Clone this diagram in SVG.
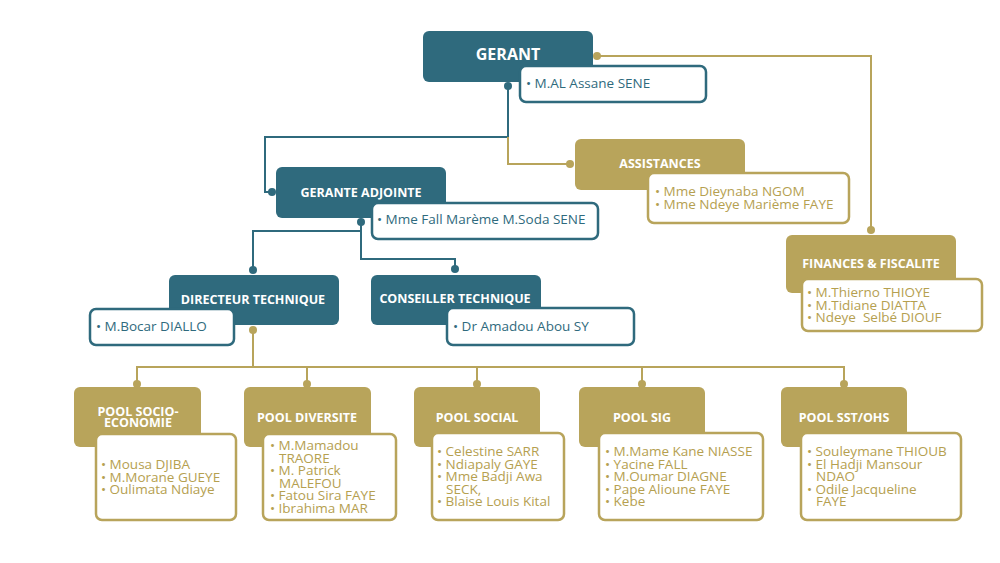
<svg xmlns="http://www.w3.org/2000/svg" width="1000" height="563" viewBox="0 0 1000 563">
<style>
.tb{fill:#2f6a7d}
.gb{fill:#b8a45b}
.tn{fill:#fff;stroke:#2f6a7d;stroke-width:2.5}
.gn{fill:#fff;stroke:#b8a45b;stroke-width:2.5}
.tt{font-family:"Open Sans","Liberation Sans",sans-serif;font-weight:bold;font-size:12.5px;fill:#fff;text-anchor:middle}
.nt{font-family:"Open Sans","Liberation Sans",sans-serif;font-size:13.5px;fill:#2f6a7d}
.ng{font-family:"Open Sans","Liberation Sans",sans-serif;font-size:13.5px;fill:#b5a050}
.ct{fill:none;stroke:#2f6a7d;stroke-width:2}
.cg{fill:none;stroke:#b8a45b;stroke-width:2}
.dt{fill:#2f6a7d}
.dg{fill:#b8a45b}
</style>
<rect width="1000" height="563" fill="#fff"/>
<g id="connectors">
<path class="ct" d="M508,85 V137 H265 V192 H272"/>
<path class="cg" d="M508,137 V164 H570"/>
<path class="cg" d="M597,56 H871 V230"/>
<path class="ct" d="M361,222 V231 H253 V270"/>
<path class="ct" d="M361,231 V259 H455 V269"/>
<path class="cg" d="M253,330 V367"/>
<path class="cg" d="M137,384 V367 H844 V384"/>
<path class="cg" d="M307,367 V384 M477,367 V384 M642,367 V384"/>
<circle class="dt" cx="508" cy="86" r="4"/>
<circle class="dt" cx="272" cy="192" r="4"/>
<circle class="dg" cx="570" cy="164" r="4"/>
<circle class="dg" cx="597" cy="56" r="4"/>
<circle class="dg" cx="871" cy="230" r="4"/>
<circle class="dt" cx="361" cy="222" r="4"/>
<circle class="dt" cx="253" cy="270" r="4"/>
<circle class="dt" cx="455" cy="269" r="4"/>
<circle class="dg" cx="253" cy="330" r="4"/>
<circle class="dg" cx="137" cy="384" r="4"/>
<circle class="dg" cx="307" cy="384" r="4"/>
<circle class="dg" cx="477" cy="384" r="4"/>
<circle class="dg" cx="642" cy="384" r="4"/>
<circle class="dg" cx="844" cy="384" r="4"/>
</g>
<g id="gerant">
<rect class="tb" x="423" y="31" width="170" height="51" rx="6"/>
<text class="tt" x="508" y="60" style="font-size:16px">GERANT</text>
<rect class="tn" x="520" y="66" width="186" height="36" rx="6"/>
<text class="nt" x="526" y="88">• M.AL Assane SENE</text>
</g>
<g id="assistances">
<rect class="gb" x="575" y="139" width="170" height="51" rx="6"/>
<text class="tt" x="660" y="168">ASSISTANCES</text>
<rect class="gn" x="648" y="173" width="201" height="50" rx="6"/>
<text class="ng" x="655" y="196">• Mme Dieynaba NGOM</text>
<text class="ng" x="655" y="208.5">• Mme Ndeye Marième FAYE</text>
</g>
<g id="finances">
<rect class="gb" x="786" y="235" width="170" height="58" rx="6"/>
<text class="tt" x="871" y="268">FINANCES &amp; FISCALITE</text>
<rect class="gn" x="802" y="279" width="180" height="52" rx="6"/>
<text class="ng" x="807" y="297">• M.Thierno THIOYE</text>
<text class="ng" x="807" y="309.5">• M.Tidiane DIATTA</text>
<text class="ng" x="807" y="322" xml:space="preserve">• Ndeye  Selbé DIOUF</text>
</g>
<g id="gerante-adjointe">
<rect class="tb" x="276" y="167" width="170" height="51" rx="6"/>
<text class="tt" x="361" y="196.5">GERANTE ADJOINTE</text>
<rect class="tn" x="372" y="203" width="226" height="36" rx="6"/>
<text class="nt" x="377" y="224">• Mme Fall Marème M.Soda SENE</text>
</g>
<g id="directeur-technique">
<rect class="tb" x="169" y="275" width="170" height="50" rx="6"/>
<text class="tt" x="253" y="303.5">DIRECTEUR TECHNIQUE</text>
<rect class="tn" x="90" y="309" width="144" height="36" rx="6"/>
<text class="nt" x="96" y="331">• M.Bocar DIALLO</text>
</g>
<g id="conseiller-technique">
<rect class="tb" x="371" y="275" width="170" height="50" rx="6"/>
<text class="tt" x="455" y="302.5">CONSEILLER TECHNIQUE</text>
<rect class="tn" x="447" y="308" width="187" height="37" rx="6"/>
<text class="nt" x="453" y="331">• Dr Amadou Abou SY</text>
</g>
<g id="pool-socio-economie">
<rect class="gb" x="74" y="387" width="127" height="60" rx="6"/>
<text class="tt" x="138" y="416">POOL SOCIO-</text>
<text class="tt" x="138" y="427">ECONOMIE</text>
<rect class="gn" x="96" y="434" width="140" height="86" rx="6"/>
<text class="ng" x="101" y="469">• Mousa DJIBA</text>
<text class="ng" x="101" y="481.5">• M.Morane GUEYE</text>
<text class="ng" x="101" y="494">• Oulimata Ndiaye</text>
</g>
<g id="pool-diversite">
<rect class="gb" x="244" y="387" width="127" height="60" rx="6"/>
<text class="tt" x="307" y="421.5">POOL DIVERSITE</text>
<rect class="gn" x="263" y="434" width="133" height="86" rx="6"/>
<text class="ng" x="270" y="450">• M.Mamadou</text>
<text class="ng" x="279" y="462.5">TRAORE</text>
<text class="ng" x="270" y="475">• M. Patrick</text>
<text class="ng" x="279" y="487.5">MALEFOU</text>
<text class="ng" x="270" y="500">• Fatou Sira FAYE</text>
<text class="ng" x="270" y="512.5">• Ibrahima MAR</text>
</g>
<g id="pool-social">
<rect class="gb" x="414" y="387" width="126" height="60" rx="6"/>
<text class="tt" x="477" y="421.5">POOL SOCIAL</text>
<rect class="gn" x="432" y="433" width="132" height="87" rx="6"/>
<text class="ng" x="437" y="456">• Celestine SARR</text>
<text class="ng" x="437" y="468.5">• Ndiapaly GAYE</text>
<text class="ng" x="437" y="481">• Mme Badji Awa</text>
<text class="ng" x="446" y="493.5">SECK,</text>
<text class="ng" x="437" y="506">• Blaise Louis Kital</text>
</g>
<g id="pool-sig">
<rect class="gb" x="579" y="387" width="126" height="60" rx="6"/>
<text class="tt" x="642" y="421.5">POOL SIG</text>
<rect class="gn" x="599" y="433" width="164" height="87" rx="6"/>
<text class="ng" x="605" y="456">• M.Mame Kane NIASSE</text>
<text class="ng" x="605" y="468.5">• Yacine FALL</text>
<text class="ng" x="605" y="481">• M.Oumar DIAGNE</text>
<text class="ng" x="605" y="493.5">• Pape Alioune FAYE</text>
<text class="ng" x="605" y="506">• Kebe</text>
</g>
<g id="pool-sst-ohs">
<rect class="gb" x="781" y="387" width="126" height="60" rx="6"/>
<text class="tt" x="844" y="421.5">POOL SST/OHS</text>
<rect class="gn" x="801" y="433" width="160" height="87" rx="6"/>
<text class="ng" x="807" y="456">• Souleymane THIOUB</text>
<text class="ng" x="807" y="468.5">• El Hadji Mansour</text>
<text class="ng" x="816" y="481">NDAO</text>
<text class="ng" x="807" y="493.5">• Odile Jacqueline</text>
<text class="ng" x="816" y="506">FAYE</text>
</g>
</svg>
